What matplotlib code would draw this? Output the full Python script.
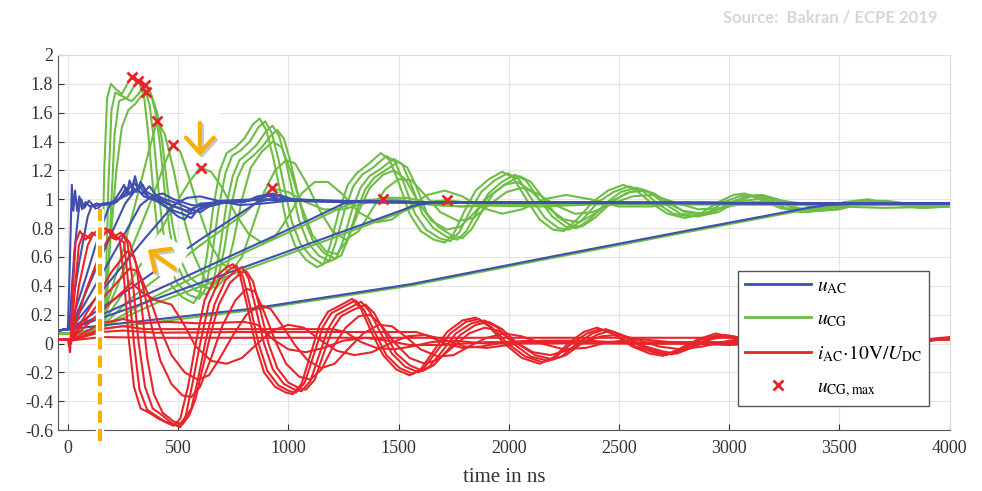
import matplotlib
matplotlib.use("Agg")
import matplotlib.pyplot as plt
from matplotlib.patches import Rectangle, Polygon
from matplotlib.lines import Line2D

plt.rcParams["font.family"] = ["Liberation Serif", "DejaVu Serif"]
plt.rcParams["mathtext.fontset"] = "stix"
plt.rcParams["axes.unicode_minus"] = False

# ---- data: (time in ns, value) ----
# u_AC, one list per switching event (fast -> slow)
uac = [
    [(-45,0.09),(0,0.1),(8,0.5),(18,1.1),(25,0.92),(33,1.06),(42,0.92),(52,1.02),(65,0.93),(80,0.98),(100,0.95),(130,0.97),(170,0.96),(210,0.99),(240,1.06),(255,1.1),(268,1.04),(280,1.13),(292,1.08),(305,1.16),(320,1.06),(345,1.02),(380,1.0),(420,0.98),(460,0.93),(500,0.88),(530,0.86),(560,0.92),(600,0.97),(700,0.98),(800,0.98),(860,1.02),(900,1.03),(950,1.0),(1100,0.99),(1400,0.98),(2000,0.975),(4000,0.97)],
    [(-45,0.09),(0,0.1),(10,0.2),(30,0.65),(50,0.93),(60,1.0),(75,0.94),(95,0.99),(120,0.95),(160,0.97),(210,0.97),(240,1.02),(265,1.08),(285,1.03),(300,1.12),(320,1.07),(340,1.1),(365,1.02),(400,0.99),(440,0.95),(480,0.92),(520,0.9),(560,0.87),(590,0.93),(640,0.97),(760,0.98),(860,1.0),(910,1.04),(960,1.0),(1100,0.99),(1500,0.98),(4000,0.97)],
    [(-45,0.09),(0,0.1),(10,0.15),(50,0.55),(90,0.88),(110,0.96),(130,0.93),(160,0.97),(220,0.98),(260,1.04),(290,1.1),(310,1.05),(330,1.12),(350,1.06),(380,1.03),(420,1.0),(470,0.96),(520,0.93),(560,0.9),(600,0.93),(650,0.97),(780,0.98),(880,1.01),(930,1.04),(990,1.0),(1150,0.99),(1600,0.98),(4000,0.97)],
    [(-45,0.09),(0,0.1),(10,0.12),(80,0.45),(150,0.8),(190,0.96),(230,1.0),(270,1.03),(310,1.07),(340,1.04),(370,1.09),(400,1.03),(440,1.0),(500,0.97),(560,0.93),(600,0.91),(640,0.95),(700,0.98),(820,0.99),(900,1.02),(960,1.03),(1020,1.0),(1200,0.99),(1600,0.98),(4000,0.97)],
    [(-45,0.09),(0,0.1),(10,0.1),(100,0.42),(200,0.77),(260,0.97),(300,1.05),(330,1.08),(360,1.02),(420,0.99),(480,0.95),(540,0.92),(600,0.96),(700,0.99),(850,1.0),(1000,0.99),(1400,0.98),(4000,0.97)],
    [(-45,0.09),(0,0.1),(10,0.1),(150,0.47),(250,0.74),(330,0.96),(380,1.02),(430,1.04),(480,1.0),(560,0.96),(640,0.95),(720,0.98),(900,1.0),(1100,0.99),(1500,0.98),(4000,0.97)],
    [(-45,0.09),(0,0.1),(10,0.1),(200,0.45),(350,0.73),(480,0.96),(540,1.01),(600,1.02),(680,0.99),(780,0.96),(880,0.97),(1000,0.99),(1300,0.98),(4000,0.97)],
    [(-45,0.09),(0,0.1),(10,0.1),(300,0.4),(600,0.72),(800,0.92),(860,0.98),(920,1.0),(1000,0.99),(1300,0.98),(4000,0.97)],
    [(-45,0.09),(0,0.1),(10,0.1),(400,0.37),(800,0.65),(1100,0.86),(1250,0.97),(1350,0.99),(1600,0.98),(4000,0.97)],
    [(-45,0.09),(0,0.1),(10,0.1),(400,0.31),(800,0.53),(1200,0.75),(1580,0.96),(1680,0.98),(2000,0.975),(4000,0.97)],
    [(-45,0.09),(0,0.1),(10,0.1),(825,0.24),(1550,0.41),(2186,0.6),(2800,0.78),(3356,0.94),(3450,0.96),(3600,0.97),(4000,0.97)],
]

# u_CG
ucg = [
    [(-45,0.07),(0,0.07),(145,0.08),(155,0.4),(165,1.2),(178,1.7),(195,1.8),(220,1.76),(245,1.73),(270,1.8),(290,1.85),(320,1.82),(345,1.72),(365,1.45),(385,1.1),(405,0.8),(430,0.55),(470,0.4),(520,0.32),(570,0.28),(600,0.35),(630,0.6),(660,0.95),(690,1.2),(720,1.32),(760,1.36),(800,1.42),(840,1.52),(870,1.56),(900,1.48),(930,1.3),(960,1.08),(990,0.85),(1030,0.68),(1080,0.58),(1130,0.53),(1160,0.55),(1190,0.68),(1230,0.92),(1270,1.1),(1310,1.18),(1360,1.24),(1420,1.32),(1460,1.27),(1500,1.12),(1550,0.9),(1600,0.78),(1660,0.72),(1710,0.7),(1750,0.76),(1800,0.92),(1850,1.06),(1910,1.14),(1970,1.19),(2020,1.15),(2080,1.0),(2140,0.86),(2200,0.79),(2250,0.78),(2310,0.86),(2380,0.98),(2450,1.06),(2520,1.1),(2580,1.06),(2650,0.97),(2720,0.9),(2800,0.87),(2870,0.9),(2950,0.98),(3020,1.03),(3070,1.04),(3140,1.0),(3230,0.94),(3330,0.91),(3420,0.93),(3520,0.98),(3630,1.0),(3730,0.97),(3860,0.94),(4000,0.95)],
    [(-45,0.07),(0,0.07),(160,0.08),(172,0.4),(184,1.1),(198,1.62),(215,1.74),(240,1.72),(268,1.7),(295,1.77),(319,1.82),(345,1.78),(370,1.66),(390,1.42),(410,1.08),(430,0.8),(455,0.56),(495,0.42),(545,0.34),(595,0.31),(625,0.38),(655,0.62),(685,0.95),(715,1.18),(745,1.3),(785,1.34),(825,1.4),(865,1.5),(895,1.54),(925,1.46),(955,1.28),(985,1.06),(1015,0.85),(1055,0.69),(1105,0.6),(1155,0.55),(1185,0.57),(1215,0.7),(1255,0.92),(1295,1.09),(1335,1.17),(1385,1.22),(1445,1.3),(1485,1.26),(1525,1.11),(1575,0.9),(1625,0.79),(1685,0.73),(1735,0.71),(1775,0.77),(1825,0.92),(1875,1.05),(1935,1.13),(1995,1.18),(2045,1.14),(2105,1.0),(2165,0.87),(2225,0.8),(2275,0.79),(2335,0.86),(2405,0.98),(2475,1.05),(2545,1.09),(2605,1.06),(2675,0.97),(2745,0.9),(2825,0.88),(2895,0.9),(2975,0.98),(3045,1.02),(3095,1.03),(3165,1.0),(3255,0.94),(3355,0.91),(3445,0.93),(3545,0.98),(3655,0.99),(3755,0.97),(3880,0.94),(4000,0.95)],
    [(-45,0.07),(0,0.07),(165,0.1),(180,0.35),(195,0.9),(212,1.45),(232,1.68),(260,1.7),(290,1.68),(320,1.73),(349,1.79),(375,1.74),(398,1.6),(418,1.38),(440,1.05),(462,0.78),(488,0.57),(528,0.44),(578,0.37),(628,0.34),(658,0.41),(688,0.64),(718,0.95),(748,1.16),(778,1.27),(818,1.32),(858,1.38),(898,1.47),(928,1.51),(958,1.44),(988,1.27),(1018,1.06),(1048,0.86),(1088,0.7),(1138,0.61),(1188,0.57),(1218,0.59),(1248,0.71),(1288,0.92),(1328,1.08),(1368,1.16),(1418,1.21),(1478,1.28),(1518,1.24),(1558,1.1),(1608,0.9),(1658,0.8),(1718,0.74),(1768,0.72),(1808,0.78),(1858,0.92),(1908,1.04),(1968,1.12),(2028,1.17),(2078,1.13),(2138,1.0),(2198,0.88),(2258,0.81),(2308,0.8),(2368,0.86),(2438,0.97),(2508,1.05),(2578,1.08),(2638,1.05),(2708,0.97),(2778,0.9),(2858,0.88),(2928,0.91),(3008,0.98),(3078,1.02),(3128,1.03),(3198,1.0),(3288,0.94),(3388,0.92),(3478,0.93),(3578,0.98),(3688,0.99),(3788,0.97),(3900,0.95),(4000,0.96)],
    [(-45,0.07),(0,0.07),(150,0.1),(170,0.3),(195,0.75),(220,1.2),(245,1.5),(275,1.62),(305,1.66),(330,1.71),(354,1.745),(380,1.72),(405,1.6),(428,1.4),(450,1.1),(475,0.82),(505,0.6),(545,0.47),(600,0.4),(650,0.38),(680,0.44),(710,0.66),(740,0.95),(770,1.15),(800,1.25),(840,1.3),(880,1.36),(920,1.44),(950,1.48),(980,1.42),(1010,1.26),(1040,1.06),(1070,0.87),(1110,0.72),(1160,0.63),(1210,0.59),(1240,0.61),(1270,0.72),(1310,0.92),(1350,1.07),(1390,1.15),(1440,1.2),(1500,1.26),(1540,1.22),(1580,1.09),(1630,0.9),(1680,0.81),(1740,0.75),(1790,0.73),(1830,0.79),(1880,0.92),(1930,1.04),(1990,1.11),(2050,1.16),(2100,1.12),(2160,1.0),(2220,0.88),(2280,0.82),(2330,0.81),(2390,0.87),(2460,0.97),(2530,1.04),(2600,1.07),(2660,1.04),(2730,0.97),(2800,0.91),(2880,0.89),(2950,0.91),(3030,0.98),(3100,1.02),(3150,1.03),(3220,1.0),(3310,0.94),(3410,0.92),(3500,0.93),(3600,0.97),(3710,0.99),(3810,0.97),(3920,0.95),(4000,0.96)],
    [(-45,0.07),(0,0.07),(140,0.1),(200,0.38),(260,0.7),(320,1.05),(370,1.35),(405,1.545),(440,1.45),(480,1.2),(520,0.9),(570,0.62),(620,0.45),(670,0.38),(710,0.45),(750,0.7),(790,1.0),(830,1.22),(880,1.33),(930,1.4),(970,1.36),(1010,1.2),(1060,0.95),(1110,0.75),(1170,0.64),(1220,0.62),(1270,0.72),(1320,0.92),(1370,1.08),(1430,1.17),(1480,1.2),(1530,1.14),(1590,0.98),(1650,0.85),(1720,0.79),(1780,0.81),(1840,0.9),(1910,1.02),(1980,1.1),(2040,1.12),(2100,1.06),(2170,0.95),(2250,0.86),(2320,0.84),(2390,0.9),(2470,0.99),(2550,1.05),(2620,1.06),(2700,1.0),(2790,0.92),(2880,0.9),(2970,0.94),(3070,0.99),(3170,1.01),(3280,0.98),(3400,0.94),(3520,0.95),(3650,0.98),(3800,0.97),(4000,0.96)],
    [(-45,0.07),(0,0.07),(140,0.1),(220,0.38),(300,0.7),(380,1.0),(440,1.25),(475,1.375),(510,1.33),(550,1.15),(600,0.9),(650,0.68),(700,0.55),(750,0.52),(790,0.6),(840,0.82),(890,1.05),(940,1.2),(990,1.27),(1030,1.25),(1080,1.12),(1140,0.93),(1200,0.78),(1260,0.72),(1320,0.78),(1380,0.93),(1440,1.07),(1500,1.14),(1560,1.13),(1620,1.03),(1690,0.91),(1770,0.85),(1840,0.87),(1910,0.96),(1990,1.05),(2060,1.08),(2130,1.04),(2210,0.96),(2300,0.9),(2380,0.91),(2470,0.97),(2560,1.02),(2650,1.03),(2750,0.98),(2860,0.93),(2970,0.94),(3090,0.98),(3220,0.99),(3400,0.96),(3600,0.96),(4000,0.96)],
    [(-45,0.07),(0,0.07),(140,0.1),(250,0.35),(360,0.62),(470,0.92),(550,1.12),(602,1.22),(650,1.19),(700,1.08),(760,0.9),(820,0.76),(880,0.7),(940,0.74),(1000,0.88),(1060,1.04),(1120,1.12),(1180,1.12),(1250,1.03),(1320,0.91),(1400,0.84),(1470,0.86),(1550,0.95),(1630,1.03),(1710,1.06),(1790,1.02),(1880,0.94),(1970,0.9),(2060,0.93),(2160,1.0),(2260,1.03),(2370,1.0),(2500,0.95),(2650,0.95),(2800,0.98),(3000,0.98),(3300,0.96),(4000,0.96)],
    [(-45,0.07),(0,0.07),(140,0.1),(300,0.33),(600,0.68),(800,0.9),(870,1.0),(928,1.075),(1000,1.05),(1080,0.98),(1160,0.93),(1250,0.93),(1340,0.97),(1440,1.01),(1540,1.01),(1650,0.97),(1780,0.95),(1950,0.97),(2200,0.975),(4000,0.96)],
    [(-45,0.07),(0,0.07),(140,0.1),(400,0.33),(800,0.63),(1100,0.84),(1250,0.95),(1330,0.99),(1430,1.005),(1530,0.99),(1650,0.96),(1800,0.95),(2000,0.96),(2300,0.97),(4000,0.96)],
    [(-45,0.07),(0,0.07),(140,0.1),(400,0.28),(800,0.51),(1200,0.73),(1580,0.95),(1650,0.985),(1722,0.993),(1800,0.98),(1950,0.955),(2150,0.95),(2400,0.965),(4000,0.96)],
    [(-45,0.07),(0,0.07),(140,0.1),(825,0.23),(1550,0.4),(2186,0.59),(2800,0.77),(3356,0.93),(3500,0.95),(3700,0.94),(4000,0.95)],
]

# i_AC * 10V / U_DC
iac = [
    [(-45,0.03),(0,0.03),(10,-0.06),(20,0.3),(35,0.7),(55,0.78),(80,0.72),(110,0.77),(140,0.74),(170,0.8),(200,0.75),(235,0.72),(255,0.45),(275,0.05),(300,-0.3),(330,-0.45),(370,-0.48),(410,-0.52),(450,-0.55),(480,-0.57),(510,-0.52),(545,-0.3),(580,0.0),(620,0.3),(670,0.46),(720,0.53),(750,0.55),(780,0.48),(815,0.25),(850,0.0),(890,-0.2),(940,-0.3),(990,-0.34),(1020,-0.35),(1060,-0.28),(1100,-0.08),(1140,0.12),(1180,0.22),(1230,0.26),(1290,0.31),(1330,0.24),(1380,0.07),(1430,-0.08),(1490,-0.18),(1550,-0.22),(1600,-0.18),(1660,-0.05),(1720,0.08),(1790,0.16),(1850,0.18),(1910,0.12),(1980,0.0),(2060,-0.1),(2140,-0.14),(2200,-0.1),(2270,0.0),(2340,0.08),(2400,0.11),(2470,0.07),(2560,-0.02),(2640,-0.07),(2700,-0.085),(2770,-0.04),(2860,0.03),(2940,0.07),(3010,0.04),(3100,-0.02),(3200,-0.05),(3300,-0.03),(3400,0.02),(3500,0.04),(3600,0.02),(3700,-0.01),(3800,0.0),(3900,0.03),(4000,0.045)],
    [(-45,0.03),(0,0.03),(15,0.0),(30,0.35),(50,0.68),(70,0.76),(100,0.73),(130,0.78),(160,0.75),(190,0.79),(220,0.74),(255,0.7),(275,0.4),(300,0.0),(325,-0.32),(360,-0.46),(400,-0.5),(440,-0.54),(480,-0.56),(510,-0.58),(535,-0.5),(565,-0.28),(600,0.0),(640,0.28),(690,0.45),(740,0.52),(765,0.54),(795,0.46),(830,0.24),(865,0.0),(905,-0.19),(955,-0.29),(1005,-0.33),(1035,-0.34),(1075,-0.27),(1115,-0.08),(1155,0.11),(1195,0.21),(1245,0.25),(1305,0.3),(1345,0.23),(1395,0.07),(1445,-0.08),(1505,-0.17),(1565,-0.21),(1615,-0.17),(1675,-0.05),(1735,0.07),(1805,0.15),(1865,0.17),(1925,0.11),(1995,0.0),(2075,-0.09),(2155,-0.13),(2215,-0.09),(2285,0.0),(2355,0.07),(2415,0.1),(2485,0.06),(2575,-0.02),(2655,-0.06),(2715,-0.08),(2785,-0.04),(2875,0.03),(2955,0.06),(3025,0.04),(3115,-0.02),(3215,-0.045),(3315,-0.03),(3415,0.02),(3515,0.035),(3615,0.02),(3715,-0.01),(3815,0.0),(3915,0.03),(4000,0.04)],
    [(-45,0.03),(0,0.03),(15,0.03),(50,0.4),(90,0.68),(115,0.76),(150,0.73),(180,0.79),(210,0.74),(240,0.77),(270,0.7),(295,0.42),(320,0.02),(350,-0.3),(385,-0.45),(430,-0.5),(470,-0.55),(500,-0.57),(530,-0.52),(560,-0.45),(590,-0.25),(625,0.02),(665,0.27),(715,0.44),(765,0.51),(790,0.53),(820,0.45),(855,0.23),(890,0.0),(930,-0.18),(980,-0.28),(1030,-0.32),(1060,-0.33),(1100,-0.26),(1140,-0.08),(1180,0.1),(1220,0.2),(1270,0.24),(1330,0.29),(1370,0.22),(1420,0.07),(1470,-0.07),(1530,-0.16),(1590,-0.2),(1640,-0.16),(1700,-0.05),(1760,0.07),(1830,0.14),(1890,0.16),(1950,0.11),(2020,0.0),(2100,-0.09),(2180,-0.12),(2240,-0.09),(2310,0.0),(2380,0.07),(2440,0.1),(2510,0.06),(2600,-0.02),(2680,-0.06),(2740,-0.075),(2810,-0.035),(2900,0.03),(2980,0.06),(3050,0.04),(3140,-0.02),(3240,-0.04),(3340,-0.025),(3440,0.02),(3540,0.035),(3640,0.02),(3740,-0.01),(3840,0.0),(3940,0.03),(4000,0.04)],
    [(-45,0.03),(0,0.03),(15,0.03),(80,0.36),(150,0.64),(190,0.74),(220,0.72),(250,0.76),(280,0.7),(310,0.55),(335,0.25),(360,-0.1),(390,-0.35),(430,-0.48),(480,-0.54),(520,-0.56),(550,-0.5),(580,-0.38),(610,-0.18),(645,0.05),(685,0.27),(735,0.42),(785,0.49),(810,0.5),(840,0.43),(875,0.22),(910,0.0),(950,-0.17),(1000,-0.27),(1050,-0.31),(1080,-0.32),(1120,-0.25),(1160,-0.07),(1200,0.1),(1240,0.19),(1290,0.23),(1350,0.27),(1390,0.21),(1440,0.07),(1490,-0.07),(1550,-0.15),(1610,-0.19),(1660,-0.15),(1720,-0.05),(1780,0.06),(1850,0.13),(1910,0.15),(1970,0.1),(2040,0.0),(2120,-0.08),(2200,-0.11),(2260,-0.08),(2330,0.0),(2400,0.06),(2460,0.09),(2530,0.05),(2620,-0.02),(2700,-0.055),(2760,-0.07),(2830,-0.03),(2920,0.03),(3000,0.055),(3070,0.035),(3160,-0.02),(3260,-0.04),(3360,-0.02),(3460,0.02),(3560,0.03),(3660,0.015),(3760,-0.01),(3860,0.005),(3960,0.03),(4000,0.035)],
    [(-45,0.03),(0,0.03),(10,0.02),(100,0.25),(200,0.5),(270,0.64),(300,0.6),(340,0.4),(380,0.12),(420,-0.12),(470,-0.28),(520,-0.36),(560,-0.37),(600,-0.3),(650,-0.1),(700,0.12),(760,0.3),(810,0.38),(850,0.36),(890,0.22),(940,0.02),(990,-0.14),(1050,-0.23),(1100,-0.25),(1150,-0.18),(1200,-0.03),(1260,0.11),(1320,0.19),(1370,0.2),(1420,0.13),(1480,0.01),(1550,-0.1),(1620,-0.14),(1680,-0.11),(1750,-0.02),(1820,0.07),(1890,0.11),(1950,0.09),(2030,0.01),(2110,-0.06),(2190,-0.08),(2260,-0.05),(2340,0.01),(2420,0.05),(2500,0.06),(2580,0.03),(2680,-0.02),(2780,-0.04),(2880,-0.02),(3000,0.02),(3120,0.03),(3250,0.01),(3400,-0.01),(3600,0.01),(3800,0.02),(4000,0.035)],
    [(-45,0.03),(0,0.03),(10,0.02),(150,0.3),(280,0.52),(320,0.5),(370,0.32),(420,0.1),(470,-0.08),(530,-0.2),(590,-0.25),(640,-0.22),(690,-0.1),(750,0.06),(810,0.2),(870,0.27),(920,0.24),(970,0.13),(1030,-0.01),(1090,-0.12),(1150,-0.17),(1210,-0.14),(1270,-0.04),(1340,0.07),(1410,0.13),(1470,0.12),(1530,0.05),(1600,-0.04),(1680,-0.09),(1750,-0.08),(1820,-0.02),(1900,0.04),(1980,0.07),(2060,0.05),(2150,0.0),(2250,-0.04),(2350,-0.03),(2450,0.01),(2600,0.03),(2800,0.0),(3000,-0.01),(3300,0.01),(3700,0.02),(4000,0.03)],
    [(-45,0.03),(0,0.03),(10,0.02),(150,0.22),(290,0.42),(340,0.35),(400,0.3),(470,0.27),(520,0.15),(580,-0.02),(650,-0.12),(720,-0.14),(790,-0.1),(860,0.0),(930,0.09),(1000,0.13),(1070,0.11),(1140,0.03),(1220,-0.05),(1300,-0.08),(1380,-0.06),(1460,0.0),(1540,0.05),(1620,0.06),(1700,0.03),(1800,-0.02),(1900,-0.03),(2000,-0.01),(2150,0.02),(2350,0.02),(2600,0.0),(3000,0.0),(3500,0.02),(4000,0.03)],
    [(-45,0.03),(0,0.03),(10,0.02),(150,0.14),(250,0.17),(330,0.14),(450,0.15),(600,0.14),(800,0.15),(860,0.13),(930,0.03),(1000,-0.04),(1080,-0.06),(1160,-0.03),(1250,0.02),(1350,0.04),(1450,0.02),(1550,-0.01),(1700,-0.01),(1900,0.01),(2200,0.01),(2600,0.0),(3200,0.01),(4000,0.03)],
    [(-45,0.03),(0,0.03),(10,0.02),(150,0.1),(250,0.12),(350,0.1),(600,0.1),(900,0.1),(1200,0.1),(1260,0.08),(1330,0.01),(1400,-0.03),(1480,-0.04),(1560,-0.02),(1650,0.01),(1750,0.02),(1900,0.0),(2200,0.0),(2700,0.01),(3300,0.01),(4000,0.03)],
    [(-45,0.03),(0,0.03),(10,0.02),(150,0.08),(250,0.09),(400,0.075),(800,0.08),(1200,0.08),(1580,0.08),(1640,0.05),(1710,0.0),(1790,-0.03),(1880,-0.02),(1980,0.01),(2100,0.02),(2300,0.0),(2800,0.0),(3400,0.01),(4000,0.03)],
    [(-45,0.03),(0,0.03),(10,0.02),(150,0.045),(400,0.04),(1000,0.04),(2000,0.04),(3000,0.04),(3350,0.04),(3420,0.01),(3500,-0.01),(3600,0.0),(3750,0.01),(4000,0.03)],
]

# maxima of u_CG
max_t = [289, 319, 349, 354, 405, 475, 602, 928, 1430, 1722]
max_v = [1.85, 1.82, 1.79, 1.745, 1.545, 1.375, 1.22, 1.075, 1.005, 0.993]

x_ticks = [0, 500, 1000, 1500, 2000, 2500, 3000, 3500, 4000]
y_ticks = [-0.6, -0.4, -0.2, 0, 0.2, 0.4, 0.6, 0.8, 1, 1.2, 1.4, 1.6, 1.8, 2]

BLUE = "#3f4fae"
GREEN = "#6dbd45"
RED = "#e8242b"
ORANGE = "#f5b000"

fig = plt.figure(figsize=(9.82, 4.91), dpi=100)
ax = fig.add_axes([0.059, 0.124, 0.908, 0.764])

for pts in uac:
    t, v = zip(*pts)
    ax.plot(t, v, color=BLUE, lw=1.5, zorder=3)
for pts in ucg:
    t, v = zip(*pts)
    ax.plot(t, v, color=GREEN, lw=1.5, zorder=2)
for pts in iac:
    t, v = zip(*pts)
    ax.plot(t, v, color=RED, lw=1.5, zorder=4)
ax.plot(max_t, max_v, ls="none", marker="x", ms=6.5, mew=2, color=RED, zorder=5)

ax.set_xlim(-45, 4000)
ax.set_ylim(-0.6, 2)
ax.set_xticks(x_ticks)
ax.set_yticks(y_ticks)
ax.set_yticklabels(["%g" % y for y in y_ticks])
ax.tick_params(direction="in", length=4, width=0.8, labelsize=13,
               colors="#333333", top=False, right=False)
ax.tick_params(axis="x", pad=7)
ax.grid(True, color="#e4e4e4", lw=0.8)
ax.set_axisbelow(True)
for s in ["top", "right"]:
    ax.spines[s].set_color("#dddddd")
for s in ["left", "bottom"]:
    ax.spines[s].set_color("#555555")
ax.set_xlabel("time in ns", fontsize=15, color="#333333", labelpad=8)

# legend
handles = [
    Line2D([], [], color=BLUE, lw=2),
    Line2D([], [], color=GREEN, lw=2),
    Line2D([], [], color=RED, lw=2),
    Line2D([], [], ls="none", marker="x", ms=6.5, mew=2, color=RED),
]
labels = [r"$u_{\mathrm{AC}}$", r"$u_{\mathrm{CG}}$",
          r"$i_{\mathrm{AC}}\!\cdot\!10\mathrm{V}/U_{\mathrm{DC}}$",
          r"$u_{\mathrm{CG,max}}$"]
leg = ax.legend(handles, labels, loc="lower right", bbox_to_anchor=(0.977, 0.065),
                borderaxespad=0, fontsize=14, handlelength=3.4, fancybox=False,
                framealpha=1, edgecolor="#555555", labelspacing=0.75,
                handletextpad=0.3, borderpad=0.35)
leg.get_frame().set_linewidth(1.0)
leg.set_zorder(10)

# orange highlights
ax.plot([145, 145], [0.93, -0.71], color="white", lw=6, zorder=6, clip_on=False,
        solid_capstyle="butt")
ax.plot([145, 145], [0.93, -0.71], color=ORANGE, lw=3, zorder=7, clip_on=False,
        dashes=(2.9, 1.5))

ax.add_patch(Rectangle((531, 1.27), 158, 0.35, facecolor="white", edgecolor="none", zorder=6))
ax.add_patch(Polygon([(317, 0.576), (417, 0.77), (553, 0.646), (463, 0.417)],
                     closed=True, facecolor="white", edgecolor="none", zorder=6))
for dx, dy, col, z in [(9, -0.015, "#c8c8c8", 7), (0, 0, ORANGE, 8)]:
    ax.annotate("", xy=(599 + dx, 1.30 + dy), xytext=(599 + dx, 1.53 + dy),
                arrowprops=dict(arrowstyle="->,head_length=0.55,head_width=0.5",
                                lw=3, color=col, shrinkA=0, shrinkB=0,
                                mutation_scale=20), zorder=z)
    ax.annotate("", xy=(363 + dx, 0.65 + dy), xytext=(485 + dx, 0.52 + dy),
                arrowprops=dict(arrowstyle="->,head_length=0.55,head_width=0.5",
                                lw=3, color=col, shrinkA=0, shrinkB=0,
                                mutation_scale=20), zorder=z)

fig.text(0.955, 0.965, "Source:  Bakran / ECPE 2019", ha="right", va="center",
         color="#d6d6d6", fontsize=12, fontweight="bold", family=["Lato", "DejaVu Sans"])

fig.savefig("out.png", dpi=100)
